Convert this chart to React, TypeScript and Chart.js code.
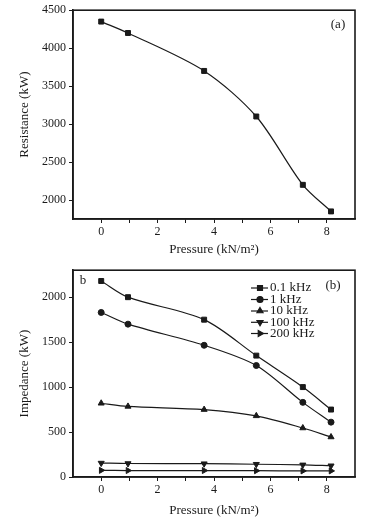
import React, { useEffect, useRef } from 'react';
import Chart from 'chart.js/auto';
import { drawPoint } from 'chart.js/helpers';

const pressure = [0, 0.95, 3.65, 5.5, 7.15, 8.15];
const resistance = [4350, 4200, 3700, 3100, 2200, 1850];
const imp01k = [2180, 2000, 1750, 1350, 1000, 750];
const imp1k = [1830, 1700, 1465, 1240, 830, 610];
const imp10k = [820, 785, 750, 680, 545, 445];
const imp100k = [155, 150, 148, 142, 135, 125];
const imp200k = [74, 72, 72, 70, 68, 68];
const seriesLabels = ['0.1 kHz', '1 kHz', '10 kHz', '100 kHz', '200 kHz'];
const xTickValues = [0, 1, 2, 3, 4, 5, 6, 7, 8];
const xLabelValues = [0, 2, 4, 6, 8];
const yTicksA = [2000, 2500, 3000, 3500, 4000, 4500];
const yTicksB = [0, 500, 1000, 1500, 2000];

const FONT = "'Liberation Serif', 'Times New Roman', serif";
const INK = '#1a1a1a';

const pts = (ys: number[]) => ys.map((y, i) => ({ x: pressure[i], y }));

function frameAndText(texts: { t: string; x: number; y: number; align?: CanvasTextAlign }[], legend: any[] | null) {
  return {
    id: 'frameText',
    afterDraw(chart: any) {
      const { ctx, chartArea: a } = chart;
      ctx.save();
      ctx.strokeStyle = INK;
      ctx.lineWidth = 1.6;
      ctx.strokeRect(a.left, a.top, a.right - a.left, a.bottom - a.top);
      ctx.fillStyle = INK;
      ctx.font = `13px ${FONT}`;
      ctx.textBaseline = 'middle';
      texts.forEach((s) => {
        ctx.textAlign = s.align || 'center';
        ctx.fillText(s.t, s.x, s.y);
      });
      if (legend) {
        const ds = chart.data.datasets;
        legend.forEach((row: any, i: number) => {
          const d = ds[i];
          ctx.strokeStyle = INK;
          ctx.lineWidth = 1.2;
          ctx.beginPath();
          ctx.moveTo(row.x, row.y);
          ctx.lineTo(row.x + 17, row.y);
          ctx.stroke();
          ctx.fillStyle = INK;
          drawPoint(ctx, {
            pointStyle: d.pointStyle,
            rotation: d.rotation || 0,
            radius: d.pointRadius,
            borderWidth: 1,
          } as any, row.x + 9, row.y);
          ctx.fillStyle = INK;
          ctx.textAlign = 'left';
          ctx.font = `13px ${FONT}`;
          ctx.fillText(d.label, row.x + 19, row.y);
        });
      }
      ctx.restore();
    },
  };
}

function baseOptions(yTitle: string, yMin: number, yMax: number, yTicks: number[], xH: number) {
  const tickFont = { family: FONT, size: 12 };
  return {
    animation: false as const,
    responsive: false,
    layout: { padding: { left: 17, right: 22, top: 10, bottom: 0 } },
    plugins: { legend: { display: false }, tooltip: { enabled: false } },
    scales: {
      x: {
        type: 'linear' as const,
        min: -1,
        max: 9,
        afterBuildTicks: (s: any) => { s.ticks = xTickValues.map((v) => ({ value: v })); },
        afterFit: (s: any) => { s.height = xH; },
        ticks: {
          autoSkip: false,
          maxRotation: 0,
          color: INK,
          font: tickFont,
          padding: 2,
          callback: (v: any) => (xLabelValues.includes(Number(v)) ? String(v) : ''),
        },
        grid: { drawOnChartArea: false, drawTicks: true, tickLength: 4, color: INK },
        border: { display: true, color: INK, width: 1.6 },
        title: { display: true, text: 'Pressure (kN/m²)', color: INK, font: { family: FONT, size: 13 }, padding: { top: 2, bottom: 3 } },
      },
      y: {
        type: 'linear' as const,
        min: yMin,
        max: yMax,
        afterBuildTicks: (s: any) => { s.ticks = yTicks.map((v) => ({ value: v })); },
        afterFit: (s: any) => { s.width = 56; },
        ticks: { color: INK, font: tickFont, padding: 3, callback: (v: any) => String(v) },
        grid: { drawOnChartArea: false, drawTicks: true, tickLength: 4, color: INK },
        border: { display: true, color: INK, width: 1.6 },
        title: { display: true, text: yTitle, color: INK, font: { family: FONT, size: 13 }, padding: { top: 0, bottom: 4 } },
      },
    },
  };
}

function ds(label: string, data: number[], pointStyle: string, radius: number, rotation = 0) {
  return {
    label,
    data: pts(data),
    pointStyle,
    rotation,
    pointRadius: radius,
    pointBackgroundColor: INK,
    pointBorderColor: INK,
    pointBorderWidth: 1,
    borderColor: INK,
    borderWidth: 1.2,
    tension: 0.3,
    fill: false,
  };
}

export default function App() {
  const refA = useRef<HTMLCanvasElement>(null);
  const refB = useRef<HTMLCanvasElement>(null);

  useEffect(() => {
    const chartA = new Chart(refA.current!, {
      type: 'line',
      data: { datasets: [ds('Resistance', resistance, 'rect', 3.5)] },
      options: baseOptions('Resistance (kW)', 1750, 4500, yTicksA, 41) as any,
      plugins: [frameAndText([{ t: '(a)', x: 338, y: 25 }], null)],
    });
    const legendRows = [28, 39.5, 51, 62.3, 73.5].map((y) => ({ x: 251, y }));
    const chartB = new Chart(refB.current!, {
      type: 'line',
      data: {
        datasets: [
          ds(seriesLabels[0], imp01k, 'rect', 3.5),
          ds(seriesLabels[1], imp1k, 'circle', 3),
          ds(seriesLabels[2], imp10k, 'triangle', 3.5),
          ds(seriesLabels[3], imp100k, 'triangle', 3.5, 180),
          ds(seriesLabels[4], imp200k, 'triangle', 3.5, 90),
        ],
      },
      options: baseOptions('Impedance (kW)', 0, 2300, yTicksB, 44) as any,
      plugins: [frameAndText([{ t: '(b)', x: 333, y: 26 }, { t: 'b', x: 83, y: 21 }], legendRows)],
    });
    return () => {
      chartA.destroy();
      chartB.destroy();
    };
  }, []);

  return (
    <div style={{ position: 'absolute', left: 0, top: 0, width: 377, height: 521, background: '#fff' }}>
      <canvas ref={refA} width={377} height={260} style={{ display: 'block', width: 377, height: 260 }} />
      <canvas ref={refB} width={377} height={261} style={{ display: 'block', width: 377, height: 261 }} />
    </div>
  );
}
